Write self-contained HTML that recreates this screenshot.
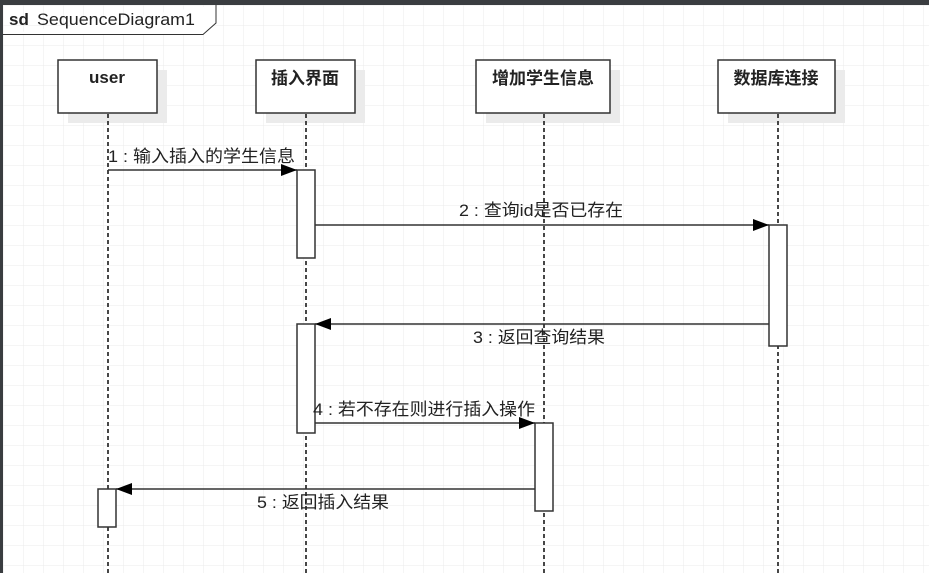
<!DOCTYPE html>
<html><head><meta charset="utf-8"><style>
html,body{margin:0;padding:0;width:929px;height:573px;overflow:hidden;background:#fff}
svg{display:block}
text{font-family:"Liberation Sans","Noto Sans CJK SC",sans-serif;fill:#222}
</style></head><body>
<svg width="929" height="573" viewBox="0 0 929 573" xmlns="http://www.w3.org/2000/svg">
<defs>
<pattern id="g" x="3" y="5" width="20" height="20" patternUnits="userSpaceOnUse">
<path d="M0 0H20M0 0V20" stroke="#ebebeb" stroke-width="1" fill="none"/>
</pattern>
<marker id="a" markerWidth="16" markerHeight="12" refX="16" refY="6" orient="auto" markerUnits="userSpaceOnUse">
<path d="M0 0L16 6L0 12Z" fill="#000"/>
</marker>
</defs>
<rect width="929" height="573" fill="#fff"/>
<rect x="3" y="5" width="926" height="568" fill="url(#g)"/>
<rect x="0" y="0" width="929" height="5" fill="#3a3d40"/>
<rect x="0" y="0" width="3" height="573" fill="#3a3d40"/>
<path d="M3 34.5H203L216 23V5" fill="#fff" stroke="#333" stroke-width="1"/>
<text x="9" y="25" font-size="17" font-weight="bold">sd</text>
<text x="37" y="25" font-size="17" textLength="158" lengthAdjust="spacingAndGlyphs">SequenceDiagram1</text>
<g fill="#ebebeb">
<rect x="68" y="70" width="99" height="53"/>
<rect x="266" y="70" width="99" height="53"/>
<rect x="486" y="70" width="134" height="53"/>
<rect x="728" y="70" width="117" height="53"/>
</g>
<g stroke="#333" stroke-width="1.8" stroke-dasharray="4,3">
<line x1="108" y1="114" x2="108" y2="573"/>
<line x1="306" y1="114" x2="306" y2="573"/>
<line x1="544" y1="114" x2="544" y2="573"/>
<line x1="778" y1="114" x2="778" y2="573"/>
</g>
<g fill="#fff" stroke="#333" stroke-width="1.5">
<rect x="58" y="60" width="99" height="53"/>
<rect x="256" y="60" width="99" height="53"/>
<rect x="476" y="60" width="134" height="53"/>
<rect x="718" y="60" width="117" height="53"/>
</g>
<g font-size="17" font-weight="bold" text-anchor="middle">
<text x="107" y="83">user</text>
<text x="305" y="84">插入界面</text>
<text x="543" y="84">增加学生信息</text>
<text x="776" y="84">数据库连接</text>
</g>
<g fill="#fff" stroke="#333" stroke-width="1.5">
<rect x="297" y="170" width="18" height="88"/>
<rect x="769" y="225" width="18" height="121"/>
<rect x="297" y="324" width="18" height="109"/>
<rect x="535" y="423" width="18" height="88"/>
<rect x="98" y="489" width="18" height="38"/>
</g>
<g stroke="#333" stroke-width="1.5" fill="none">
<line x1="108" y1="170" x2="297" y2="170" marker-end="url(#a)"/>
<line x1="315" y1="225" x2="769" y2="225" marker-end="url(#a)"/>
<line x1="769" y1="324" x2="315" y2="324" marker-end="url(#a)"/>
<line x1="315" y1="423" x2="535" y2="423" marker-end="url(#a)"/>
<line x1="535" y1="489" x2="116" y2="489" marker-end="url(#a)"/>
</g>
<g font-size="17" fill="#333" lengthAdjust="spacingAndGlyphs">
<text x="108" y="162" textLength="187" lengthAdjust="spacingAndGlyphs">1 : 输入插入的学生信息</text>
<text x="459" y="216" textLength="164" lengthAdjust="spacingAndGlyphs">2 : 查询id是否已存在</text>
<text x="473" y="343" textLength="132" lengthAdjust="spacingAndGlyphs">3 : 返回查询结果</text>
<text x="313" y="415" textLength="222" lengthAdjust="spacingAndGlyphs">4 : 若不存在则进行插入操作</text>
<text x="257" y="508" textLength="132" lengthAdjust="spacingAndGlyphs">5 : 返回插入结果</text>
</g>
</svg>
</body></html>
